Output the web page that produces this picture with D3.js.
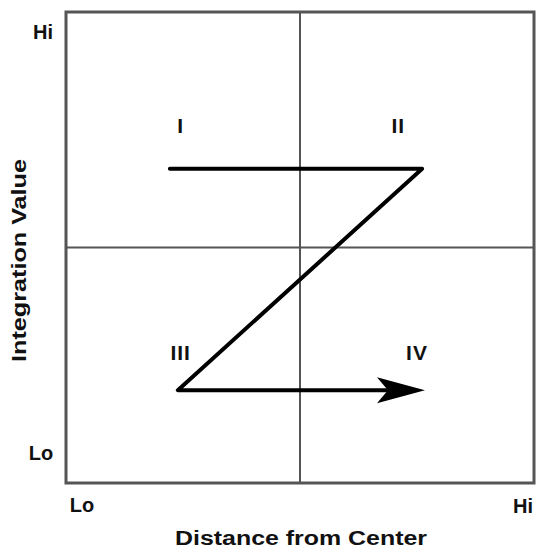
<!DOCTYPE html>
<html>
<head>
<meta charset="utf-8">
<script src="https://cdn.jsdelivr.net/npm/d3@7"></script>
<style>
  body { margin: 0; background: #fff; }
  text { font-family: "Liberation Sans", Arial, sans-serif; font-weight: bold; fill: #111; }
</style>
</head>
<body>
<svg id="chart"></svg>
<script>
// Z-shaped path across the four quadrants (Lo..Hi mapped to 0..1)
const zPath = [
  {x: 0.222, y: 0.667},
  {x: 0.761, y: 0.667},
  {x: 0.239, y: 0.197},
  {x: 0.767, y: 0.197}
];
const quadLabels = [
  {label: "I",   x: 0.245, y: 0.755},
  {label: "II",  x: 0.71,  y: 0.755},
  {label: "III", x: 0.245, y: 0.272},
  {label: "IV",  x: 0.75,  y: 0.272}
];
const tickLabels = ["Lo", "Hi"];
const xTitle = "Distance from Center";
const yTitle = "Integration Value";

const width = 537, height = 552;
const margin = {top: 12, right: 3, bottom: 69, left: 66};

const svg = d3.select("#chart")
  .attr("width", width)
  .attr("height", height);

const xScale = d3.scaleLinear()
  .domain([0, 1])
  .range([margin.left, width - margin.right]);

const yScale = d3.scaleLinear()
  .domain([0, 1])
  .range([height - margin.bottom, margin.top]);

// frame
svg.append("rect")
  .attr("x", xScale(0))
  .attr("y", yScale(1))
  .attr("width", xScale(1) - xScale(0))
  .attr("height", yScale(0) - yScale(1))
  .attr("fill", "none")
  .attr("stroke", "#555")
  .attr("stroke-width", 3);

// quadrant dividers
svg.append("line")
  .attr("x1", xScale(0.5)).attr("x2", xScale(0.5))
  .attr("y1", yScale(0)).attr("y2", yScale(1))
  .attr("stroke", "#555").attr("stroke-width", 2);

svg.append("line")
  .attr("x1", xScale(0)).attr("x2", xScale(1))
  .attr("y1", yScale(0.5)).attr("y2", yScale(0.5))
  .attr("stroke", "#555").attr("stroke-width", 2);

// the Z line, stopping short of the arrow tip
const last = zPath[zPath.length - 1];
const tipX = xScale(last.x), tipY = yScale(last.y);
const linePts = zPath.map(d => [xScale(d.x), yScale(d.y)]);
linePts[linePts.length - 1] = [tipX - 30, tipY];

svg.append("path")
  .attr("d", d3.line()(linePts))
  .attr("fill", "none")
  .attr("stroke", "#000")
  .attr("stroke-width", 4)
  .attr("stroke-linejoin", "round")
  .attr("stroke-linecap", "round");

// arrow head
svg.append("path")
  .attr("d", `M${tipX},${tipY} L${tipX - 48},${tipY - 13} L${tipX - 37},${tipY} L${tipX - 48},${tipY + 13} Z`)
  .attr("fill", "#000");

// quadrant labels
svg.selectAll(".quad")
  .data(quadLabels)
  .join("text")
  .attr("class", "quad")
  .attr("x", d => xScale(d.x))
  .attr("y", d => yScale(d.y))
  .attr("text-anchor", "middle")
  .attr("dominant-baseline", "middle")
  .attr("font-size", 21)
  .attr("letter-spacing", 1)
  .text(d => d.label);

// Lo / Hi on the y side
svg.append("text")
  .attr("x", 41).attr("y", yScale(0) - 28)
  .attr("text-anchor", "middle").attr("dominant-baseline", "middle")
  .attr("font-size", 20)
  .text(tickLabels[0]);
svg.append("text")
  .attr("x", 43).attr("y", yScale(1) + 22)
  .attr("text-anchor", "middle").attr("dominant-baseline", "middle")
  .attr("font-size", 20)
  .text(tickLabels[1]);

// Lo / Hi on the x side
svg.append("text")
  .attr("x", xScale(0) + 16).attr("y", yScale(0) + 24)
  .attr("text-anchor", "middle").attr("dominant-baseline", "middle")
  .attr("font-size", 20)
  .text(tickLabels[0]);
svg.append("text")
  .attr("x", xScale(1) - 11).attr("y", yScale(0) + 25)
  .attr("text-anchor", "middle").attr("dominant-baseline", "middle")
  .attr("font-size", 20)
  .text(tickLabels[1]);

// axis titles
svg.append("text")
  .attr("x", 301).attr("y", 540)
  .attr("text-anchor", "middle").attr("dominant-baseline", "middle")
  .attr("font-size", 20)
  .attr("textLength", 252)
  .attr("lengthAdjust", "spacingAndGlyphs")
  .text(xTitle);

svg.append("text")
  .attr("transform", `translate(21,${yScale(0.5) + 13}) rotate(-90)`)
  .attr("text-anchor", "middle").attr("dominant-baseline", "middle")
  .attr("font-size", 20)
  .attr("textLength", 203)
  .attr("lengthAdjust", "spacingAndGlyphs")
  .text(yTitle);
</script>
</body>
</html>
